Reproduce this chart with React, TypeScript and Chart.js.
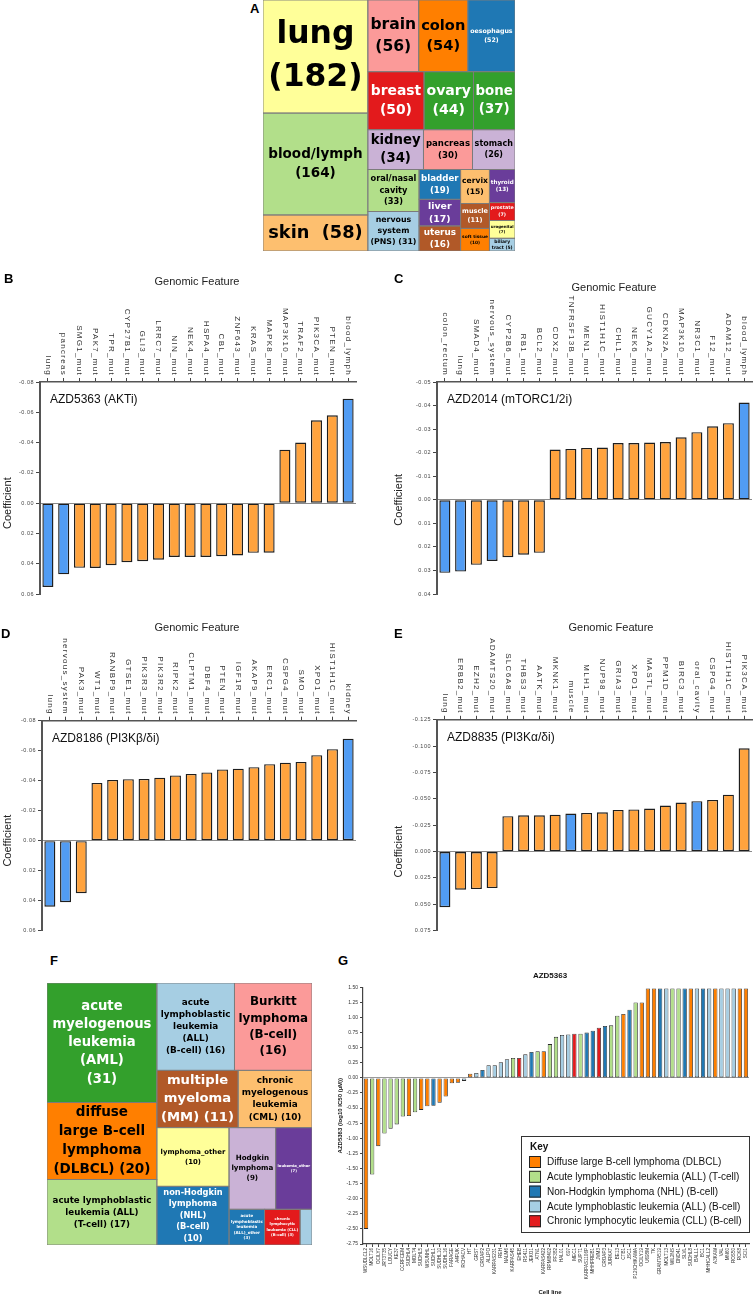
import React, { useEffect, useRef } from 'react';
import { Chart, registerables } from 'chart.js';
Chart.register(...registerables);

const SANS = '"Liberation Sans", Arial, Helvetica, sans-serif';
const DEJAVU = '"DejaVu Sans", sans-serif';
const TISSUE_BLUE = '#519cf3';
const MUT_ORANGE = '#ffa33e';
const BAR_EDGE = '#1e1e1e';

// ---------- Panel A (tissue treemap) ----------
const aNames = ['lung', 'blood/lymph', 'skin', 'brain', 'colon', 'oesophagus', 'breast', 'ovary', 'bone', 'kidney', 'pancreas', 'stomach', 'oral/nasal cavity', 'nervous system (PNS)', 'bladder', 'liver', 'uterus', 'cervix', 'thyroid', 'muscle', 'soft tissue', 'prostate', 'urogenital', 'biliary tract'];
const aCounts = [182, 164, 58, 56, 54, 52, 50, 44, 37, 34, 30, 26, 33, 31, 19, 17, 16, 15, 13, 11, 10, 7, 7, 5];
const aLabels = ['lung\n({n})', 'blood/lymph\n({n})', 'skin  ({n})', 'brain\n({n})', 'colon\n({n})', 'oesophagus\n({n})', 'breast\n({n})', 'ovary\n({n})', 'bone\n({n})', 'kidney\n({n})', 'pancreas\n({n})', 'stomach\n({n})', 'oral/nasal\ncavity\n({n})', 'nervous\nsystem\n(PNS) ({n})', 'bladder\n({n})', 'liver\n({n})', 'uterus\n({n})', 'cervix\n({n})', 'thyroid\n({n})', 'muscle\n({n})', 'soft tissue\n({n})', 'prostate\n({n})', 'urogenital\n({n})', 'biliary\ntract ({n})'];
const aColors = ['#ffff99', '#b2df8a', '#fdbf6f', '#fb9a99', '#ff7f00', '#1f78b4', '#e31a1c', '#33a02c', '#33a02c', '#cab2d6', '#fb9a99', '#cab2d6', '#b2df8a', '#a6cee3', '#1f78b4', '#6a3d9a', '#b15928', '#fdbf6f', '#6a3d9a', '#b15928', '#ff7f00', '#e31a1c', '#ffff99', '#a6cee3'];
const aTextColors = ['#000', '#000', '#000', '#000', '#000', '#fff', '#fff', '#fff', '#fff', '#000', '#000', '#000', '#000', '#000', '#fff', '#fff', '#fff', '#000', '#fff', '#fff', '#000', '#fff', '#000', '#000'];

type TNode = number | ['h' | 'v', TNode[]];
const aTree: TNode = ['h', [
  ['v', [0, 1, 2]],
  ['v', [
    ['h', [3, 4, 5]],
    ['h', [6, 7, 8]],
    ['h', [9, 10, 11]],
    ['h', [['v', [12, 13]], ['v', [14, 15, 16]], ['v', [17, 19, 20]], ['v', [18, 21, 22, 23]]]],
  ]],
]];

// ---------- Panel F (haematological treemap) ----------
const fNames = ['acute myelogenous leukemia (AML)', 'diffuse large B-cell lymphoma (DLBCL)', 'acute lymphoblastic leukemia (ALL) (T-cell)', 'acute lymphoblastic leukemia (ALL) (B-cell)', 'Burkitt lymphoma (B-cell)', 'multiple myeloma (MM)', 'chronic myelogenous leukemia (CML)', 'lymphoma_other', 'non-Hodgkin lymphoma (NHL) (B-cell)', 'Hodgkin lymphoma', 'leukemia_other', 'acute lymphoblastic leukemia (ALL)_other', 'chronic lymphocytic leukemia (CLL) (B-cell)', 'other'];
const fCounts = [31, 20, 17, 16, 16, 11, 10, 10, 10, 9, 7, 3, 3, 1];
const fLabels = ['acute\nmyelogenous\nleukemia\n(AML)\n({n})', 'diffuse\nlarge B-cell\nlymphoma\n(DLBCL) ({n})', 'acute lymphoblastic\nleukemia (ALL)\n(T-cell) ({n})', 'acute\nlymphoblastic\nleukemia\n(ALL)\n(B-cell) ({n})', 'Burkitt\nlymphoma\n(B-cell)\n({n})', 'multiple\nmyeloma\n(MM) ({n})', 'chronic\nmyelogenous\nleukemia\n(CML) ({n})', 'lymphoma_other\n({n})', 'non-Hodgkin\nlymphoma\n(NHL)\n(B-cell)\n({n})', 'Hodgkin\nlymphoma\n({n})', 'leukemia_other\n({n})', 'acute\nlymphoblastic\nleukemia\n(ALL)_other\n({n})', 'chronic\nlymphocytic\nleukemia (CLL)\n(B-cell) ({n})', ''];
const fColors = ['#33a02c', '#ff7f00', '#b2df8a', '#a6cee3', '#fb9a99', '#b15928', '#fdbf6f', '#ffff99', '#1f78b4', '#cab2d6', '#6a3d9a', '#1f78b4', '#e31a1c', '#a6cee3'];
const fTextColors = ['#fff', '#000', '#000', '#000', '#000', '#fff', '#000', '#000', '#fff', '#000', '#fff', '#fff', '#fff', '#000'];
const fTree: TNode = ['h', [
  ['v', [0, 1, 2]],
  ['v', [
    ['h', [3, 4]],
    ['h', [5, 6]],
    ['h', [['v', [7, 8]], ['v', [['h', [9, 10]], ['h', [11, 12, 13]]]]]],
  ]],
]];

// ---------- Panels B-E (coefficients) ----------
const bLabels = ['lung', 'pancreas', 'SMG1_mut', 'PAK7_mut', 'TPR_mut', 'CYP27B1_mut', 'GLI3_mut', 'LRRC7_mut', 'NIN_mut', 'NEK4_mut', 'HSPA4_mut', 'CBL_mut', 'ZNF643_mut', 'KRAS_mut', 'MAPK8_mut', 'MAP3K10_mut', 'TRAF2_mut', 'PIK3CA_mut', 'PTEN_mut', 'blood_lymph'];
const bValues = [0.0553, 0.047, 0.0427, 0.0428, 0.041, 0.039, 0.0383, 0.0373, 0.0355, 0.0355, 0.0355, 0.035, 0.0345, 0.0328, 0.0327, -0.0353, -0.040, -0.0547, -0.058, -0.069];
const bTicks = { min: -0.08, max: 0.06, step: 0.02, decimals: 2 };

const cLabels = ['colon_rectum', 'lung', 'SMAD4_mut', 'nervous_system', 'CYP2B6_mut', 'RB1_mut', 'BCL2_mut', 'CDX2_mut', 'TNFRSF13B_mut', 'MEN1_mut', 'HIST1H1C_mut', 'CHL1_mut', 'NEK6_mut', 'GUCY1A2_mut', 'CDKN2A_mut', 'MAP3K10_mut', 'NR3C1_mut', 'F12_mut', 'ADAM12_mut', 'blood_lymph'];
const cValues = [0.031, 0.0305, 0.0276, 0.026, 0.0244, 0.0233, 0.0225, -0.0213, -0.0216, -0.022, -0.0222, -0.0241, -0.0241, -0.0243, -0.0245, -0.0265, -0.0287, -0.0312, -0.0325, -0.0413];
const cTicks = { min: -0.05, max: 0.04, step: 0.01, decimals: 2 };

const dLabels = ['lung', 'nervous_system', 'PAK3_mut', 'WT1_mut', 'RANBP9_mut', 'GTSE1_mut', 'PIK3R3_mut', 'PIK3R2_mut', 'RIPK2_mut', 'CLPTM1_mut', 'DBF4_mut', 'PTEN_mut', 'IGF1R_mut', 'AKAP9_mut', 'ERC1_mut', 'CSPG4_mut', 'SMO_mut', 'XPO1_mut', 'HIST1H1C_mut', 'kidney'];
const dValues = [0.044, 0.041, 0.035, -0.0385, -0.0405, -0.041, -0.0412, -0.042, -0.0435, -0.0445, -0.0455, -0.0475, -0.048, -0.049, -0.051, -0.052, -0.0525, -0.057, -0.061, -0.068];
const dTicks = { min: -0.08, max: 0.06, step: 0.02, decimals: 2 };

const eLabels = ['lung', 'ERBB2_mut', 'EZH2_mut', 'ADAMTS20_mut', 'SLC6A8_mut', 'THBS3_mut', 'AATK_mut', 'MKNK1_mut', 'muscle', 'MLH1_mut', 'NUP98_mut', 'GRIA3_mut', 'XPO1_mut', 'MASTL_mut', 'PPM1D_mut', 'BIRC3_mut', 'oral_cavity', 'CSPG4_mut', 'HIST1H1C_mut', 'PIK3CA_mut'];
const eValues = [0.0527, 0.0361, 0.0355, 0.0346, -0.0336, -0.0345, -0.0345, -0.035, -0.0361, -0.0367, -0.0373, -0.0395, -0.040, -0.0408, -0.0437, -0.0465, -0.0478, -0.049, -0.054, -0.098];
const eTicks = { min: -0.125, max: 0.075, step: 0.025, decimals: 3 };

// ---------- Panel G (cell line IC50) ----------
const gCellLines = ['WSUDLCL2', 'MOLT16', 'OCILY7', 'JRT3T35', 'LOUCY', 'KE37', 'CCRFCEM', 'SUDHL4', 'MOLT4', 'SUDHL5', 'WSUNHL', 'SUDHL1', 'SUDHL10', 'SUDHL16', 'FARAGE', 'A4FUK', 'RCHACV', 'HT', 'GRST', 'CROAP2', 'ALLPO', 'KARPAS231', 'REH', 'NALM6', 'KARPAS45', 'EHEB', 'RS411', 'JEKO1', 'ATN1', 'KARPAS422', 'RPMI8402', 'PF382', 'HAL01', '697', 'MEC1', 'SUPT1', 'KARPAS1106P', 'MHHPREB1', 'JVM3', 'CROAP3', 'JURKAT', 'BE13', 'CTB1', 'JSC1', 'P12ICHIKAWA', 'OCILY19', 'U698M', 'TK', 'GRANTA519', 'MOLT13', 'WIL2NS', 'DND41', 'SLVL', 'SUDHL8', 'BALL1', 'BC1', 'MHHCALL2', 'A3KAW', 'VAL', 'MN60', 'ROS50', 'RCK8', 'SCI1'];
const gValues = [-2.50, -1.60, -1.13, -0.92, -0.84, -0.77, -0.64, -0.63, -0.57, -0.53, -0.47, -0.46, -0.41, -0.31, -0.09, -0.08, -0.05,
  0.07, 0.08, 0.13, 0.21, 0.21, 0.26, 0.31, 0.33, 0.33, 0.39, 0.43, 0.44, 0.44, 0.56, 0.68, 0.71, 0.72, 0.73, 0.73, 0.75, 0.78, 0.83, 0.86, 0.87, 1.03, 1.06, 1.13, 1.25, 1.25,
  1.48, 1.48, 1.48, 1.48, 1.48, 1.48, 1.48, 1.48, 1.48, 1.48, 1.48, 1.48, 1.48, 1.48, 1.48, 1.48, 1.48];
const gClass = [0, 1, 0, 1, 1, 1, 1, 0, 1, 0, 0, 2, 0, 0, 0, 0, 3,
  0, 3, 2, 3, 3, 3, 3, 1, 4, 3, 2, 1, 0, 1, 1, 3, 3, 4, 1, 2, 2, 4, 2, 1, 1, 0, 2, 1, 0,
  0, 0, 2, 3, 1, 1, 2, 0, 3, 2, 3, 0, 3, 3, 3, 0, 0];
const gKeyLabels = ['Diffuse large B-cell lymphoma (DLBCL)', 'Acute lymphoblastic leukemia (ALL) (T-cell)', 'Non-Hodgkin lymphoma (NHL) (B-cell)', 'Acute lymphoblastic leukemia (ALL) (B-cell)', 'Chronic lymphocytic leukemia (CLL) (B-cell)'];
const gKeyColors = ['#ff7f00', '#b2df8a', '#1f78b4', '#a6cee3', '#e31a1c'];
const gTicks = { min: -2.75, max: 1.5, step: 0.25 };

// ---------- helpers ----------
function nodeTotal(n: TNode, vals: number[]): number {
  return typeof n === 'number' ? vals[n] : n[1].reduce((s, k) => s + nodeTotal(k, vals), 0);
}
type Cell = { i: number; x0: number; y0: number; x1: number; y1: number };
function sliceLayout(n: TNode, vals: number[], x0: number, y0: number, x1: number, y1: number, out: Cell[]) {
  if (typeof n === 'number') { out.push({ i: n, x0, y0, x1, y1 }); return; }
  const [dir, kids] = n;
  const sum = nodeTotal(n, vals);
  let acc = 0;
  for (const k of kids) {
    const t = nodeTotal(k, vals);
    const f0 = acc / sum, f1 = (acc + t) / sum;
    acc += t;
    if (dir === 'h') sliceLayout(k, vals, x0 + (x1 - x0) * f0, y0, x0 + (x1 - x0) * f1, y1, out);
    else sliceLayout(k, vals, x0, y0 + (y1 - y0) * f0, x1, y0 + (y1 - y0) * f1, out);
  }
}
function fmtTick(v: number, d: number) {
  return (Math.abs(v) < 1e-9 ? 0 : v).toFixed(d);
}

const abs = (left: number, top: number, w: number, h: number): React.CSSProperties => ({ position: 'absolute', left, top, width: w, height: h });

// ---------- Treemap ----------
type TreemapProps = { left: number; top: number; width: number; height: number; counts: number[]; labels: string[]; colors: string[]; textColors: string[]; tree: TNode };
function TreemapPanel(p: TreemapProps) {
  const ref = useRef<HTMLCanvasElement>(null);
  useEffect(() => {
    if (!ref.current) return;
    const plugin = {
      id: 'treemapCells',
      afterDraw(chart: any) {
        const ctx: CanvasRenderingContext2D = chart.ctx;
        const xs = chart.scales.x, ys = chart.scales.y;
        const cells: Cell[] = [];
        sliceLayout(p.tree, p.counts, 0, 0, 1, 1, cells);
        ctx.save();
        const rects = cells.map(c => {
          const x0 = xs.getPixelForValue(c.x0), x1 = xs.getPixelForValue(c.x1);
          const y0 = ys.getPixelForValue(c.y0), y1 = ys.getPixelForValue(c.y1);
          return { i: c.i, x: x0, y: y0, w: x1 - x0, h: y1 - y0 };
        });
        for (const r of rects) { ctx.fillStyle = p.colors[r.i]; ctx.fillRect(r.x, r.y, r.w, r.h); }
        ctx.strokeStyle = '#7c7c7c'; ctx.lineWidth = 0.9;
        for (const r of rects) ctx.strokeRect(r.x, r.y, r.w, r.h);
        ctx.textAlign = 'center'; ctx.textBaseline = 'middle';
        for (const r of rects) {
          const txt = p.labels[r.i];
          if (!txt) continue;
          const lines = txt.replace('{n}', String(p.counts[r.i])).split('\n');
          ctx.font = `bold 20px ${DEJAVU}`;
          let mw = 1;
          for (const l of lines) mw = Math.max(mw, ctx.measureText(l).width);
          const size = Math.min(20 * (r.w * 0.9) / mw, (r.h * 0.97) / (lines.length * 1.38), 34);
          const lh = size * 1.38;
          ctx.font = `bold ${size}px ${DEJAVU}`;
          ctx.fillStyle = p.textColors[r.i];
          const cx = r.x + r.w / 2, cy = r.y + r.h / 2;
          lines.forEach((l, k) => ctx.fillText(l, cx, cy + (k - (lines.length - 1) / 2) * lh));
        }
        ctx.restore();
      },
    };
    const chart = new Chart(ref.current, {
      type: 'scatter',
      data: { datasets: [{ data: [] }] },
      options: {
        animation: false, responsive: false, maintainAspectRatio: false,
        layout: { padding: 0 },
        plugins: { legend: { display: false }, tooltip: { enabled: false } },
        scales: {
          x: { type: 'linear', min: 0, max: 1, display: false },
          y: { type: 'linear', min: 0, max: 1, reverse: true, display: false },
        },
      },
      plugins: [plugin],
    });
    return () => chart.destroy();
  }, []);
  return <canvas ref={ref} width={p.width} height={p.height} style={abs(p.left, p.top, p.width, p.height)} />;
}

// ---------- Coefficient bar panel ----------
type BarProps = {
  left: number; top: number; width: number; height: number;
  area: { l: number; r: number; t: number; b: number };
  labels: string[]; values: number[];
  ticks: { min: number; max: number; step: number; decimals: number };
  titleX: number; titleY: number; coefX: number; drug: string;
};
function BarPanel(p: BarProps) {
  const ref = useRef<HTMLCanvasElement>(null);
  useEffect(() => {
    if (!ref.current) return;
    const colors = p.labels.map(l => (l.endsWith('_mut') ? MUT_ORANGE : TISSUE_BLUE));
    const plugin = {
      id: 'panelText',
      afterDraw(chart: any) {
        const ctx: any = chart.ctx;
        const xs = chart.scales.x, ys = chart.scales.y, ca = chart.chartArea;
        ctx.save();
        ctx.font = `8px ${SANS}`; ctx.fillStyle = '#333'; ctx.letterSpacing = '1.3px';
        ctx.textAlign = 'right'; ctx.textBaseline = 'middle';
        p.labels.forEach((lab, i) => {
          const px = xs.getPixelForValue(i);
          ctx.save(); ctx.translate(px, ca.top - 6); ctx.rotate(Math.PI / 2); ctx.fillText(lab, 0, 0); ctx.restore();
        });
        ctx.font = `5.5px ${SANS}`; ctx.letterSpacing = '0.5px'; ctx.fillStyle = '#444';
        ys.ticks.forEach((t: any) => {
          ctx.fillText(fmtTick(t.value, p.ticks.decimals), ca.left - 6, ys.getPixelForValue(t.value));
        });
        ctx.letterSpacing = '0px';
        ctx.font = `11px ${SANS}`; ctx.fillStyle = '#222'; ctx.textAlign = 'center';
        ctx.fillText('Genomic Feature', p.titleX - p.left, p.titleY - p.top);
        ctx.save(); ctx.translate(p.coefX - p.left, ys.getPixelForValue(0)); ctx.rotate(-Math.PI / 2);
        ctx.fillText('Coefficient', 0, 0); ctx.restore();
        ctx.font = `12px ${SANS}`; ctx.fillStyle = '#111'; ctx.textAlign = 'left';
        ctx.fillText(p.drug, ca.left + 10, ca.top + 18);
        ctx.restore();
      },
    };
    const padRight = p.width - (p.area.r - p.left);
    const padBottom = p.height - (p.area.b - p.top);
    const xH = p.area.t - p.top, yW = p.area.l - p.left;
    const chart = new Chart(ref.current, {
      type: 'bar',
      data: {
        labels: p.labels,
        datasets: [{ data: p.values, backgroundColor: colors, borderColor: BAR_EDGE, borderWidth: 1.4, borderSkipped: false, barPercentage: 0.7, categoryPercentage: 1 }],
      },
      options: {
        animation: false, responsive: false, maintainAspectRatio: false,
        layout: { padding: { left: 0, top: 0, right: padRight, bottom: padBottom } },
        plugins: { legend: { display: false }, tooltip: { enabled: false }, title: { display: false } },
        scales: {
          x: {
            position: 'top', offset: true,
            grid: { offset: false, drawOnChartArea: false, drawTicks: true, tickLength: 4, tickColor: '#444', tickWidth: 1 },
            border: { display: true, color: '#555', width: 1.5 },
            ticks: { display: false },
            afterFit: (s: any) => { s.height = xH; },
          },
          y: {
            reverse: true, min: p.ticks.min, max: p.ticks.max,
            ticks: { display: false, stepSize: p.ticks.step },
            grid: { color: (c: any) => (c.tick && Math.abs(c.tick.value) < 1e-9 ? '#8a8a8a' : 'rgba(0,0,0,0)'), tickColor: '#444', tickLength: 4, lineWidth: 1 },
            border: { display: true, color: '#555', width: 2 },
            afterFit: (s: any) => { s.width = yW; },
          },
        },
      } as any,
      plugins: [plugin],
    });
    return () => chart.destroy();
  }, []);
  return <canvas ref={ref} width={p.width} height={p.height} style={abs(p.left, p.top, p.width, p.height)} />;
}

// ---------- Panel G ----------
function CellLinePanel() {
  const ref = useRef<HTMLCanvasElement>(null);
  const left = 330, top = 968, width = 424, height = 329;
  useEffect(() => {
    if (!ref.current) return;
    const plugin = {
      id: 'gText',
      afterDraw(chart: any) {
        const ctx: any = chart.ctx;
        const ca = chart.chartArea, ys = chart.scales.y;
        ctx.save();
        ctx.fillStyle = '#111'; ctx.textAlign = 'center'; ctx.textBaseline = 'middle';
        ctx.font = `bold 8px ${SANS}`;
        ctx.fillText('AZD5363', 550 - left, 976 - top);
        ctx.font = `bold 6px ${SANS}`;
        ctx.fillText('Cell line', 550 - left, 1292 - top);
        ctx.save(); ctx.translate(340 - left, (ca.top + ca.bottom) / 2); ctx.rotate(-Math.PI / 2);
        ctx.fillText('AZD5363 (log10 IC50 (µM))', 0, 0); ctx.restore();
        // key box
        const bx = 521 - left, by = 1136 - top, bw = 229, bh = 97;
        ctx.fillStyle = '#fff'; ctx.fillRect(bx, by, bw, bh);
        ctx.strokeStyle = '#333'; ctx.lineWidth = 1; ctx.strokeRect(bx + 0.5, by + 0.5, bw - 1, bh - 1);
        ctx.textAlign = 'left'; ctx.fillStyle = '#111';
        ctx.font = `bold 10px ${SANS}`;
        ctx.fillText('Key', bx + 9, by + 11);
        ctx.font = `10px ${SANS}`;
        gKeyLabels.forEach((lab, k) => {
          const cy = by + 26 + k * 14.8;
          ctx.fillStyle = gKeyColors[k]; ctx.fillRect(bx + 8, cy - 6, 12, 12);
          ctx.strokeStyle = '#222'; ctx.lineWidth = 1; ctx.strokeRect(bx + 8.5, cy - 5.5, 11, 11);
          ctx.fillStyle = '#111'; ctx.fillText(lab, bx + 26, cy + 0.5);
        });
        ctx.restore();
        void ys;
      },
    };
    const area = { l: 363, r: 749, t: 987.3, b: 1244 };
    const chart = new Chart(ref.current, {
      type: 'bar',
      data: {
        labels: gCellLines,
        datasets: [{ data: gValues, backgroundColor: gClass.map(c => gKeyColors[c]), borderColor: '#2a2a2a', borderWidth: 0.8, borderSkipped: false, barPercentage: 0.7, categoryPercentage: 1 }],
      },
      options: {
        animation: false, responsive: false, maintainAspectRatio: false,
        layout: { padding: { left: 0, top: area.t - top, right: width - (area.r - left), bottom: 0 } },
        plugins: { legend: { display: false }, tooltip: { enabled: false } },
        scales: {
          x: {
            position: 'bottom', offset: true,
            grid: { offset: false, drawOnChartArea: false, drawTicks: true, tickLength: 3, tickColor: '#444' },
            border: { display: true, color: '#444', width: 1.2 },
            ticks: { autoSkip: false, minRotation: 90, maxRotation: 90, font: { size: 4.6, family: SANS }, color: '#333', padding: 1 },
            afterFit: (s: any) => { s.height = height - (area.b - top); },
          },
          y: {
            min: gTicks.min, max: gTicks.max,
            ticks: { stepSize: gTicks.step, font: { size: 5, family: SANS }, color: '#333', padding: 2, callback: (v: any) => fmtTick(Number(v), 2) },
            grid: { color: (c: any) => (c.tick && Math.abs(c.tick.value) < 1e-9 ? '#9a9a9a' : 'rgba(0,0,0,0)'), tickColor: '#444', tickLength: 3 },
            border: { display: true, color: '#444', width: 1.2 },
            afterFit: (s: any) => { s.width = area.l - left; },
          },
        },
      } as any,
      plugins: [plugin],
    });
    return () => chart.destroy();
  }, []);
  return <canvas ref={ref} width={width} height={height} style={abs(left, top, width, height)} />;
}

const letterStyle = (left: number, top: number): React.CSSProperties => ({
  position: 'absolute', left, top, font: `bold 13px ${SANS}`, lineHeight: '13px', color: '#000',
});

export default function App() {
  return (
    <div style={{ position: 'absolute', left: 0, top: 0, width: 754, height: 1297, background: '#fff', overflow: 'hidden' }}>
      <TreemapPanel left={263} top={0} width={252} height={251} counts={aCounts} labels={aLabels} colors={aColors} textColors={aTextColors} tree={aTree} />
      <BarPanel left={0} top={262} width={377} height={345} area={{ l: 40, r: 356, t: 382, b: 594 }} labels={bLabels} values={bValues} ticks={bTicks} titleX={197} titleY={282} coefX={8} drug="AZD5363 (AKTi)" />
      <BarPanel left={377} top={262} width={377} height={345} area={{ l: 437, r: 752, t: 382, b: 594 }} labels={cLabels} values={cValues} ticks={cTicks} titleX={614} titleY={288} coefX={399} drug="AZD2014 (mTORC1/2i)" />
      <BarPanel left={0} top={612} width={377} height={335} area={{ l: 42, r: 356, t: 720.7, b: 930.7 }} labels={dLabels} values={dValues} ticks={dTicks} titleX={197} titleY={628} coefX={8} drug="AZD8186 (PI3Kβ/δi)" />
      <BarPanel left={377} top={612} width={377} height={335} area={{ l: 437, r: 752, t: 719.8, b: 930.7 }} labels={eLabels} values={eValues} ticks={eTicks} titleX={611} titleY={628} coefX={399} drug="AZD8835 (PI3Kα/δi)" />
      <TreemapPanel left={47} top={983} width={265} height={262} counts={fCounts} labels={fLabels} colors={fColors} textColors={fTextColors} tree={fTree} />
      <CellLinePanel />
      <div style={letterStyle(250, 2)}>A</div>
      <div style={letterStyle(4, 272)}>B</div>
      <div style={letterStyle(394, 272)}>C</div>
      <div style={letterStyle(1, 627)}>D</div>
      <div style={letterStyle(394, 627)}>E</div>
      <div style={letterStyle(50, 954)}>F</div>
      <div style={letterStyle(338, 954)}>G</div>
    </div>
  );
}
